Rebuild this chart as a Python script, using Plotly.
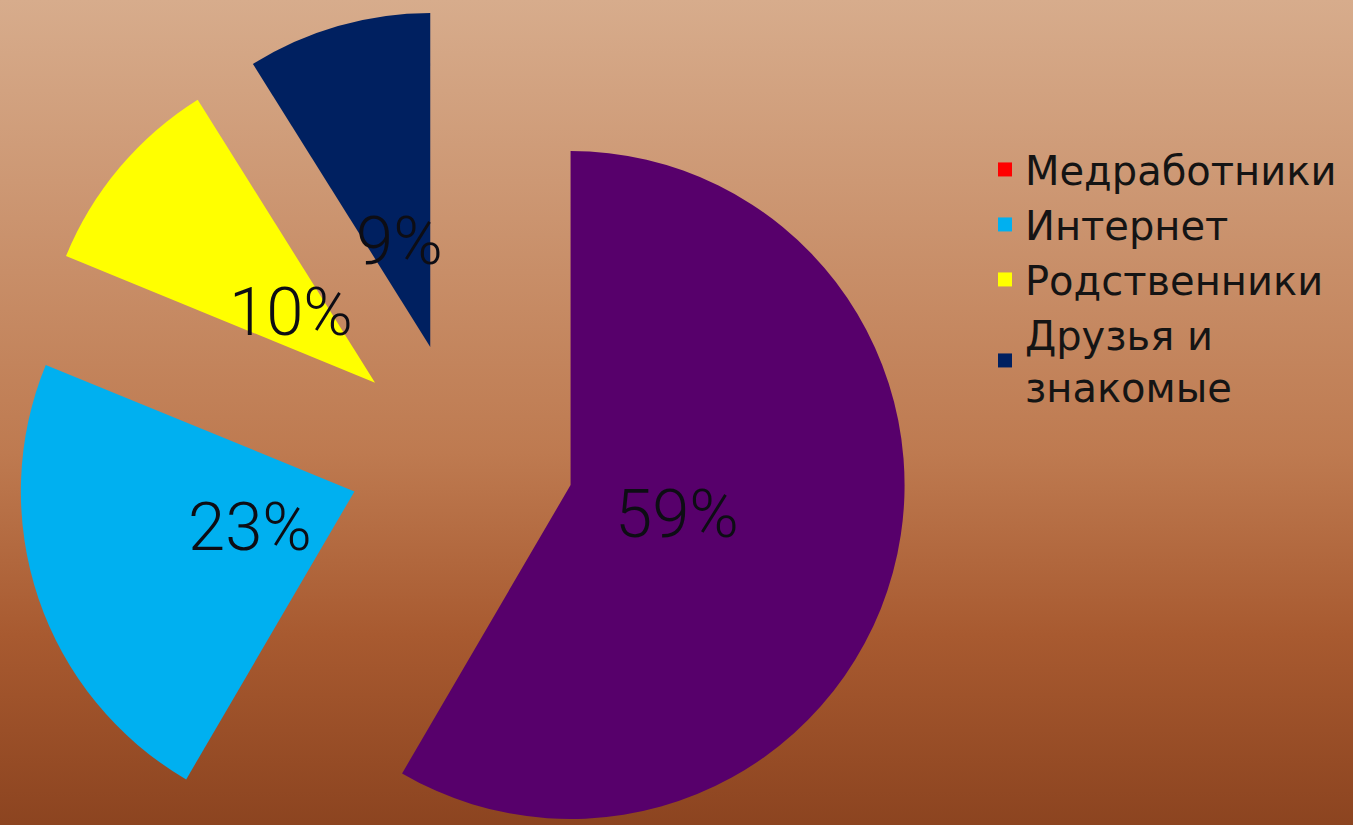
import base64
import math

import plotly.graph_objects as go

# ---- data ----------------------------------------------------------------
categories = ["Медработники", "Интернет", "Родственники", "Друзья и знакомые"]
shares = [59, 23, 10, 9]
legend_labels = ["Медработники", "Интернет", "Родственники", "Друзья и<br>знакомые"]

# ---- styling -------------------------------------------------------------
slice_colors = ["#57006B", "#00B0F0", "#FFFF00", "#002060"]
legend_colors = ["#FF0000", "#00B0F0", "#FFFF00", "#002060"]

W, H = 1353, 825
CX, CY = 461.5, 455.5   # centre of the pie before exploding (px from top-left)
R = 334                 # pie radius (px)
EXPLODE = 113           # distance each slice is pulled out along its bisector (px)
LABEL_R = 110           # distance of the percentage label from the slice tip (px)

# vertical background gradient, drawn as an SVG image behind everything
grad_svg = (
    '<svg xmlns="http://www.w3.org/2000/svg" width="10" height="100" '
    'viewBox="0 0 10 100" preserveAspectRatio="none">'
    '<defs><linearGradient id="g" x1="0" y1="0" x2="0" y2="1">'
    '<stop offset="0" stop-color="#D7AC8C"/>'
    '<stop offset="0.55" stop-color="#BE7A50"/>'
    '<stop offset="0.77" stop-color="#A85A30"/>'
    '<stop offset="1" stop-color="#8C4420"/>'
    '</linearGradient></defs>'
    '<rect width="10" height="100" fill="url(#g)"/></svg>'
)
grad_uri = "data:image/svg+xml;base64," + base64.b64encode(grad_svg.encode()).decode()

fig = go.Figure()

total = sum(shares)
cum = 0
for i, v in enumerate(shares):
    # bisector of the slice, measured clockwise from 12 o'clock
    mid = math.radians(360 * (cum + v / 2) / total)
    cum += v
    dx, dy = math.sin(mid), -math.cos(mid)
    tx, ty = CX + EXPLODE * dx, CY + EXPLODE * dy

    # one copy of the pie per slice, with only that slice visible,
    # shifted outwards to give the exploded look
    colors = [c if j == i else "rgba(0,0,0,0)" for j, c in enumerate(slice_colors)]
    x0, x1 = max(0, (tx - R) / W), min(1, (tx + R) / W)
    y0, y1 = max(0, 1 - (ty + R) / H), min(1, 1 - (ty - R) / H)
    fig.add_trace(go.Pie(
        labels=categories,
        values=shares,
        sort=False,
        direction="clockwise",
        rotation=0,
        marker=dict(colors=colors, line=dict(width=0)),
        textinfo="none",
        hoverinfo="skip",
        showlegend=False,
        domain=dict(x=[x0, x1], y=[y0, y1]),
    ))

    lx, ly = tx + LABEL_R * dx, ty + LABEL_R * dy
    fig.add_annotation(
        x=lx / W, y=1 - ly / H, xref="paper", yref="paper",
        text=f"{v}%", showarrow=False,
        xanchor="center", yanchor="middle",
        font=dict(family="Roboto", weight=300, size=67, color="#0D0D14"),
    )

# legend entries
for name, col in zip(legend_labels, legend_colors):
    fig.add_trace(go.Scatter(
        x=[None], y=[None], mode="markers", name=name,
        marker=dict(symbol="square", size=14, color=col),
        hoverinfo="skip",
    ))

fig.update_xaxes(visible=False)
fig.update_yaxes(visible=False)

fig.update_layout(
    width=W, height=H,
    margin=dict(l=0, r=0, t=0, b=0),
    paper_bgcolor="#C08050",
    plot_bgcolor="rgba(0,0,0,0)",
    images=[dict(source=grad_uri, xref="paper", yref="paper",
                 x=0, y=1, sizex=1, sizey=1, xanchor="left", yanchor="top",
                 sizing="stretch", layer="below")],
    legend=dict(
        x=0.728, y=0.834, xanchor="left", yanchor="top",
        bgcolor="rgba(0,0,0,0)",
        font=dict(family="DejaVu Sans", size=40, color="#141414"),
    ),
)

fig.write_html("out.html", config={"displayModeBar": False})
